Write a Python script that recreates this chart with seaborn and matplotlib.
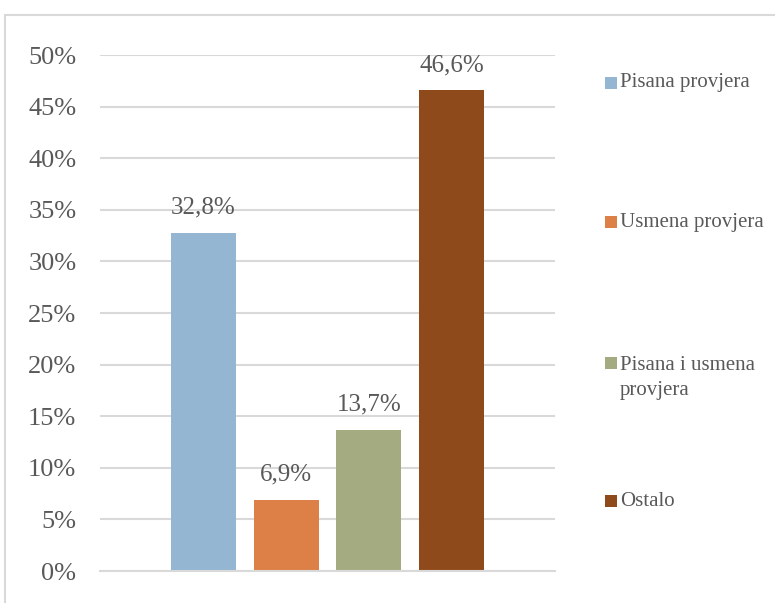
import matplotlib
matplotlib.use("Agg")
import matplotlib.pyplot as plt
from matplotlib.patches import Rectangle
import seaborn as sns
import pandas as pd

categories = ["Pisana provjera", "Usmena provjera", "Pisana i usmena\nprovjera", "Ostalo"]
values = [32.8, 6.9, 13.7, 46.6]
colors = ["#94b6d2", "#dd8047", "#a5ab81", "#8f4a1c"]
yticks = [0, 5, 10, 15, 20, 25, 30, 35, 40, 45, 50]

sns.set_theme(style="white")
plt.rcParams["font.family"] = ["Liberation Serif", "DejaVu Serif"]

W, H = 775, 603
fig = plt.figure(figsize=(W / 100, H / 100), dpi=100)
ax = fig.add_axes([100 / W, (H - 571) / H, (555 - 100) / W, (571 - 55) / H])

df = pd.DataFrame({"cat": categories, "val": values})
sns.barplot(data=df, x="cat", y="val", hue="cat", palette=colors, width=0.786,
            ax=ax, legend=False, saturation=1, linewidth=0)

ax.set_xlim(-1.252, 4.252)
ax.set_ylim(0, 50)
ax.set_yticks(yticks)
ax.set_yticklabels([f"{t}%" for t in yticks], fontsize=19, color="#595959")
ax.set_xticks([])
ax.set_xlabel("")
ax.set_ylabel("")
ax.tick_params(axis="y", length=0, pad=17)
ax.grid(axis="y", color="#d9d9d9", linewidth=1.5)
ax.set_axisbelow(True)
for s in ["left", "right", "top"]:
    ax.spines[s].set_visible(False)
ax.spines["bottom"].set_color("#d9d9d9")
ax.spines["bottom"].set_linewidth(1.5)

for cont in ax.containers:
    ax.bar_label(cont, labels=[f"{v:.1f}%".replace(".", ",") for v in cont.datavalues],
                 padding=10, fontsize=18, color="#595959")

# legend (manual, Excel-like equal spacing)
ys = [83, 222, 363, 501]
for lab, col, y in zip(categories, colors, ys):
    fig.patches.append(Rectangle((605 / W, (H - y - 6) / H), 12 / W, 12 / H,
                                 transform=fig.transFigure, facecolor=col, edgecolor="none"))
    if "\n" in lab:
        fig.text(620 / W, (H - y + 7) / H, lab, fontsize=15, color="#595959",
                 va="top", ha="left", linespacing=1.45, transform=fig.transFigure)
    else:
        fig.text(620 / W, (H - y) / H, lab, fontsize=15, color="#595959",
                 va="center", ha="left", transform=fig.transFigure)

# outer chart border
fig.patches.append(Rectangle((5 / W, -0.1), 1.0, (H - 15) / H + 0.1, transform=fig.transFigure,
                             facecolor="none", edgecolor="#d9d9d9", linewidth=1.5))

fig.savefig("out.png", dpi=100)
